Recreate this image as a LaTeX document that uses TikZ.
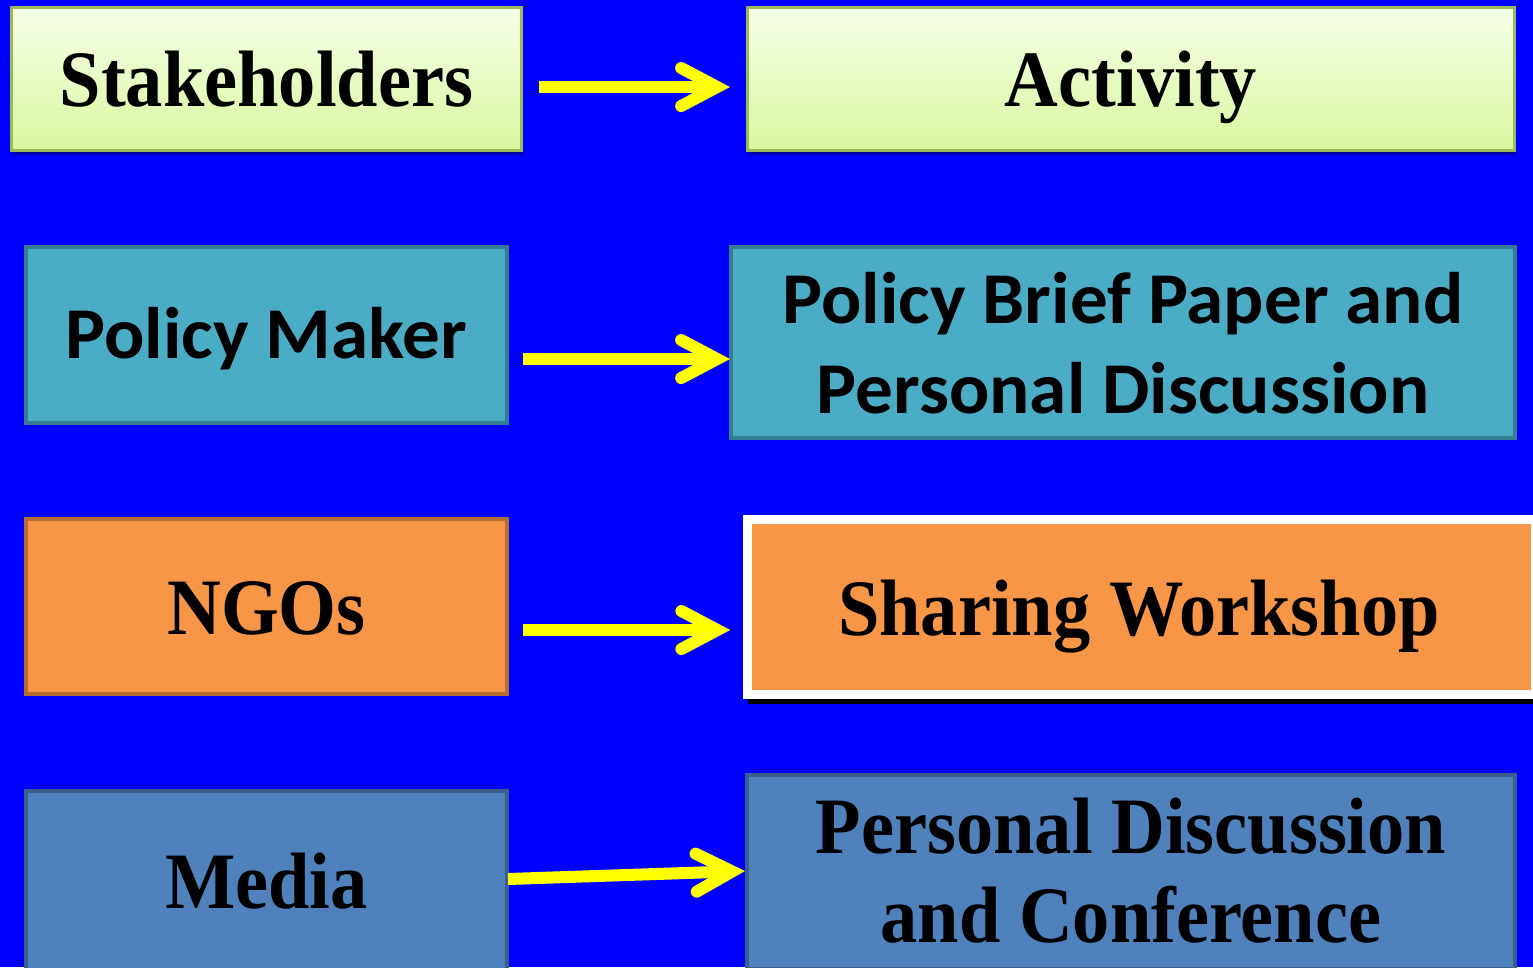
\documentclass[tikz,border=0pt]{standalone}
\usepackage{fontspec}
\usetikzlibrary{arrows.meta,calc,shadows}
\newfontfamily\tnr{Liberation Serif}[FakeStretch=0.93]
\newfontfamily\cbr{Carlito}[FakeStretch=1.03]
\definecolor{bgblue}{HTML}{0000FF}
\definecolor{lgtop}{HTML}{F6FFE8}
\definecolor{lgbot}{HTML}{DAF7A0}
\definecolor{olivegr}{HTML}{9BBB59}
\definecolor{tealfill}{HTML}{4BACC6}
\definecolor{tealdraw}{HTML}{357D91}
\definecolor{orfill}{HTML}{F79646}
\definecolor{ordraw}{HTML}{B66D31}
\definecolor{blfill}{HTML}{4F81BD}
\definecolor{bldraw}{HTML}{3A5F8B}
\definecolor{arryel}{HTML}{FFFF00}
\tikzset{
  box/.style={rectangle, inner sep=0pt, text=black},
  serif/.style={font=\tnr\bfseries\fontsize{80}{89}\selectfont},
  calib/.style={font=\cbr\bfseries\fontsize{73}{90}\selectfont},
  oneline/.style={text height=55pt, text depth=0pt},
  greenbox/.style={box, draw=olivegr, line width=3pt, top color=lgtop, bottom color=lgbot,
    drop shadow={shadow xshift=1pt, shadow yshift=-4pt, fill=black, opacity=0.35}},
  tealbox/.style={box, draw=tealdraw, line width=4pt, fill=tealfill},
  orangebox/.style={box, draw=ordraw, line width=4pt, fill=orfill},
  swbox/.style={box, draw=white, line width=9pt, fill=orfill,
    drop shadow={shadow xshift=0pt, shadow yshift=-9pt, fill=black, opacity=1}},
  bluebox/.style={box, draw=bldraw, line width=4pt, fill=blfill},
  yarrow/.style={draw=arryel, line width=12pt,
    -{Straight Barb[length=36pt, width=38pt, line cap=round, line join=miter]}},
}
\begin{document}
\begin{tikzpicture}[x=1pt,y=-1pt]
\useasboundingbox (0,0) rectangle (1533,967);
\clip (0,0) rectangle (1533,967);
\fill[bgblue] (0,0) rectangle (1533,967);

% row 1
\node[greenbox, serif, oneline, minimum width=510pt, minimum height=143pt] (sh) at (266.5,79) {Stakeholders};
\node[greenbox, serif, oneline, minimum width=767pt, minimum height=143pt] (act) at (1131,79) {Activity};
% row 2
\node[tealbox, calib, text height=46pt, text depth=0pt, minimum width=481pt, minimum height=176pt] (pm) at (266.5,335) {Policy Maker};
\node[tealbox, minimum width=784pt, minimum height=191pt] (pb) at (1123,342.5) {};
\node[calib, align=center, anchor=base] (pbt) at (1123,413) {Policy Brief Paper and\\Personal Discussion};
% row 3
\node[orangebox, serif, oneline, minimum width=481pt, minimum height=175pt] (ngo) at (266.5,606.5) {NGOs};
\node[swbox, serif, oneline, minimum width=788pt, minimum height=175pt] (sw) at (1141.75,607) {};
\node[serif, anchor=base] (swt) at (1139,635) {Sharing Workshop};
% row 4
\node[bluebox, serif, oneline, minimum width=481pt, minimum height=180pt] (md) at (266.5,881) {Media};
\node[bluebox, minimum width=768pt, minimum height=194pt] (pd) at (1131,872) {};
\node[serif, align=center, anchor=base] (pdt) at (1131,942) {Personal Discussion\\and Conference};

% arrows
\draw[yarrow] ($(sh.east)+(16,8)$) -- ($(act.west)+(-16,8)$);
\draw[yarrow] ($(pm.east)+(14,24)$) -- ($(pb.west)+(1,16.5)$);
\draw[yarrow] ($(ngo.east)+(14,23.5)$) -- ($(sw.west)+(-13,23)$);
\draw[yarrow] ($(md.east)+(-1,-2)$) -- ($(pd.west)+(0,-1)$);
\end{tikzpicture}
\end{document}
